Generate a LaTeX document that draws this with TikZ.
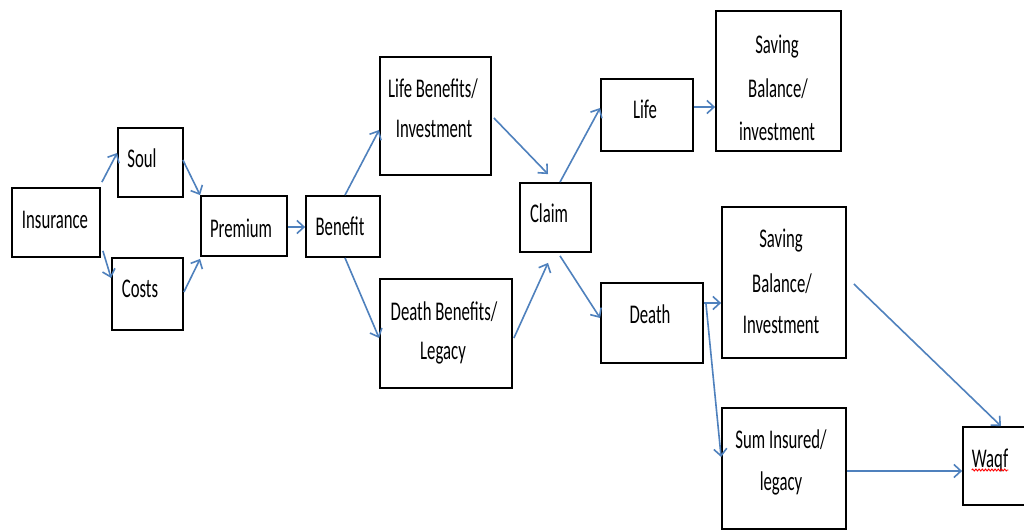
\documentclass[tikz,border=0pt]{standalone}
\usepackage{fontspec}
\setmainfont[FakeStretch=0.62]{Carlito}
\usetikzlibrary{arrows.meta,decorations.pathmorphing}
\definecolor{arrowblue}{HTML}{4F81BD}
\tikzset{
  box/.style={draw=black, line width=1.8pt, inner sep=0pt, fill=white},
  lbl/.style={anchor=base, inner sep=0pt, font=\fontsize{27}{40}\selectfont},
  flow/.style={draw=arrowblue, line width=1.6pt, -{Straight Barb[length=7pt,width=13pt,line width=1.6pt]}},
}
\newcommand{\boxat}[5]{% name, x1, y1, x2, y2
  \node[box, minimum width={(#4-#2)*1pt}, minimum height={(#5-#3)*1pt}] (#1) at ({(#2+#4)/2},{(#3+#5)/2}) {};}
\begin{document}
\begin{tikzpicture}[x=1pt,y=-1pt]
\useasboundingbox[fill=white] (0,0) rectangle (1024,530);
% boxes
\boxat{ins}{12}{188}{100}{257}
\boxat{soul}{118}{128}{183}{197}
\boxat{costs}{112}{258}{183}{330}
\boxat{prem}{201}{196}{287}{256}
\boxat{ben}{306}{196}{380}{257}
\boxat{lifeb}{380}{57}{491}{175}
\boxat{deathb}{380}{279}{512}{388}
\boxat{claim}{520}{183}{591}{252}
\boxat{life}{601}{79}{693}{151}
\boxat{savA}{716}{11}{841}{151}
\boxat{death}{601}{283}{703}{363}
\boxat{savB}{722}{207}{846}{358}
\boxat{sum}{722}{408}{846}{529}
\boxat{waqf}{963}{427}{1028}{505}
% labels
\node[lbl] (tins) at (55,228) {Insurance};
\node[lbl] (tsoul) at (142,167) {Soul};
\node[lbl] (tcosts) at (140,297) {Costs};
\node[lbl] (tprem) at (241,237) {Premium};
\node[lbl] (tben) at (340,235) {Benefit};
\node[lbl] (tlb1) at (433,97) {Life Benefits/};
\node[lbl] (tlb2) at (434,137) {Investment};
\node[lbl] (tdb1) at (444,320) {Death Benefits/};
\node[lbl] (tdb2) at (443,359) {Legacy};
\node[lbl] (tclaim) at (549,222) {Claim};
\node[lbl] (tlife) at (645,118) {Life};
\node[lbl] (tsa1) at (777,53) {Saving};
\node[lbl] (tsa2) at (778,97) {Balance/};
\node[lbl] (tsa3) at (777,140) {investment};
\node[lbl] (tsb1) at (781,247) {Saving};
\node[lbl] (tsb2) at (782,292) {Balance/};
\node[lbl] (tsb3) at (781,333) {Investment};
\node[lbl] (tdeath) at (650,323) {Death};
\node[lbl] (tsum1) at (781,448) {Sum Insured/};
\node[lbl] (tsum2) at (781,490) {legacy};
\node[lbl] (twaqf) at (990,467) {Waqf};
\draw[red, line width=0.9pt, decorate, decoration={snake, amplitude=1pt, segment length=3.2pt}] ([yshift=-3pt]twaqf.base west) -- ([yshift=-3pt]twaqf.base east);
% connectors
\draw[flow] ([xshift=1pt,yshift=5pt]ins.north east) -- ([yshift=9.5pt]soul.west);
\draw[flow] ([xshift=2pt,yshift=7pt]ins.south east) -- ([yshift=16pt]costs.west);
\draw[flow] ([xshift=-1pt,yshift=2.5pt]soul.east) -- (prem.north west);
\draw[flow] ([yshift=2pt]costs.east) -- ([yshift=-2pt]prem.south west);
\draw[flow] ([yshift=-1pt]prem.east) -- ([yshift=-1pt]prem.east -| ben.west);
\draw[flow] ([xshift=2pt]ben.north) -- ([yshift=-14pt]lifeb.west);
\draw[flow] ([xshift=2pt]ben.south) -- ([yshift=-4.5pt]deathb.west);
\draw[flow] ([xshift=2pt,yshift=-2pt]lifeb.east) -- ([xshift=-7.5pt,yshift=8pt]claim.north);
\draw[flow] ([xshift=1pt,yshift=-4.5pt]deathb.east) -- ([xshift=-7.5pt,yshift=-10pt]claim.south);
\draw[flow] ([xshift=4.5pt]claim.north) -- ([yshift=7pt]life.west);
\draw[flow] ([xshift=4.5pt,yshift=-3pt]claim.south) -- ([yshift=5pt]death.west);
\draw[flow] ([yshift=8pt]life.east) -- ([yshift=8pt]life.east -| savA.west);
\draw[flow] ([yshift=20pt]death.east) -- ([yshift=20pt]death.east -| savB.west);
\draw[flow] ([xshift=2pt,yshift=20pt]death.east) -- ([yshift=11.5pt]sum.west);
\draw[flow] ([xshift=7pt,yshift=-1.5pt]savB.east) -- ([xshift=5.5pt]waqf.north);
\draw[flow] ([yshift=-2.5pt]sum.east) -- ([yshift=-2.5pt]sum.east -| waqf.west);
\end{tikzpicture}
\end{document}
